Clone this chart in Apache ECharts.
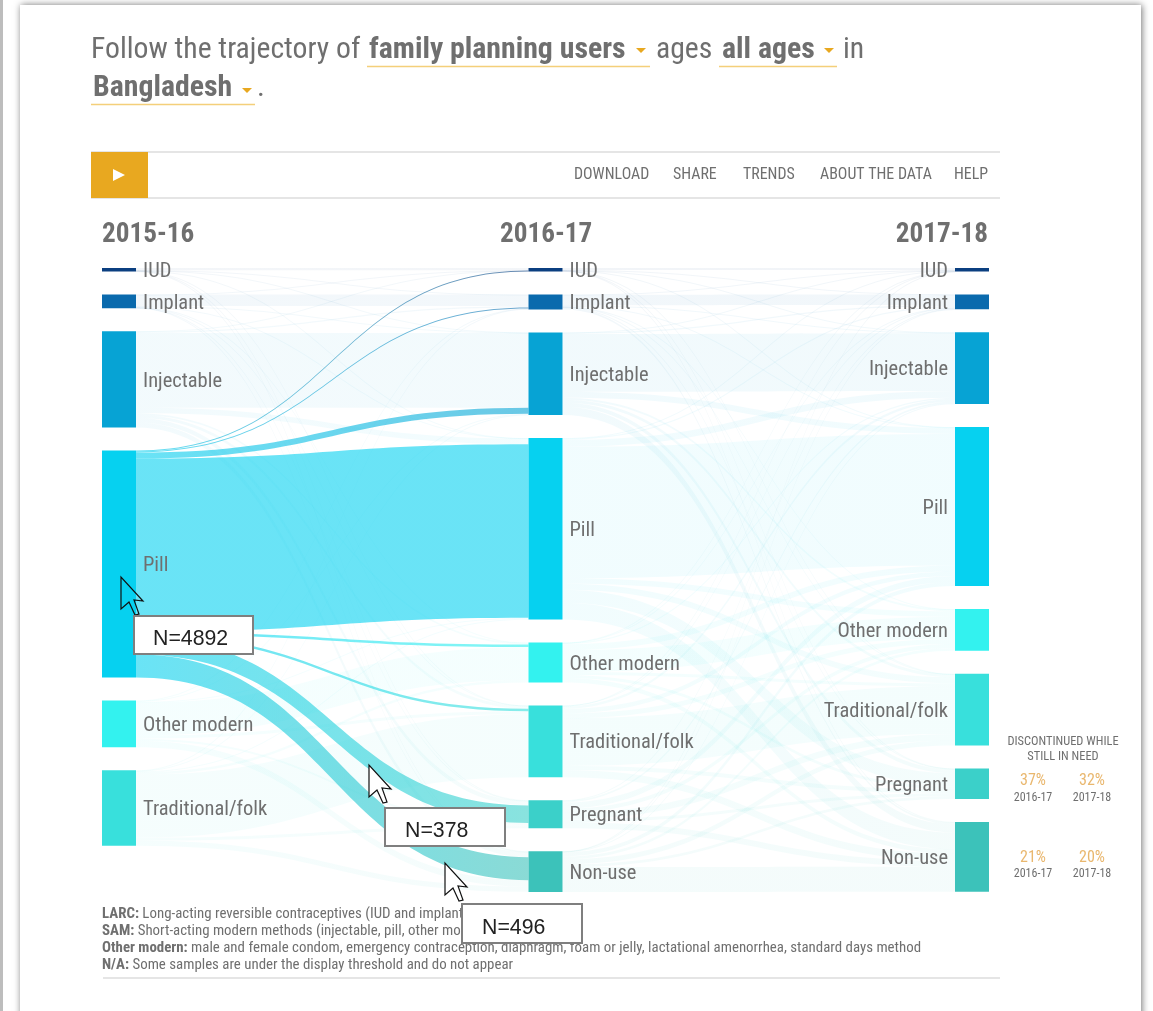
<!DOCTYPE html>
<html><head><meta charset="utf-8">
<style>html,body{margin:0;padding:0;background:#fff}#c{width:1153px;height:1011px}</style>
<script src="https://cdn.jsdelivr.net/npm/echarts@6/dist/echarts.min.js"></script>
</head><body><div id="c"></div>
<script>
// Data (respondents; pill row anchored on the N= callouts)
const periods = ['2015-16', '2016-17', '2017-18'];
const states = ['IUD', 'Implant', 'Injectable', 'Pill', 'Other modern', 'Traditional/folk', 'Pregnant', 'Non-use'];
const statesStart = ['IUD', 'Implant', 'Injectable', 'Pill', 'Other modern', 'Traditional/folk'];
const stateColors = ['#0b3f80', '#0a6aad', '#07a3d4', '#06d1f0', '#33f2ef', '#38e0dc', '#3bd0c9', '#3cc2ba'];
// rows: 2015-16 state; cols: 2016-17 state
const flowIUD1       = [46, 4, 2, 2, 0, 2, 6, 11];
const flowImplant1   = [4, 247, 9, 11, 4, 6, 9, 11];
const flowInjectable1= [4, 32, 1610, 118, 39, 64, 97, 107];
const flowPill1      = [21, 21, 129, 3739, 54, 54, 378, 496];
const flowOther1     = [0, 6, 21, 20, 708, 64, 47, 141];
const flowTrad1      = [0, 11, 10, 20, 54, 1354, 64, 110];
// rows: 2016-17 state; cols: 2017-18 state
const flowIUD2       = [42, 4, 4, 4, 0, 2, 4, 15];
const flowImplant2   = [6, 225, 13, 13, 6, 9, 13, 36];
const flowInjectable2= [6, 28, 1245, 129, 43, 64, 86, 180];
const flowPill2      = [13, 26, 146, 2833, 122, 129, 279, 358];
const flowOther2     = [2, 6, 26, 129, 472, 64, 64, 94];
const flowTrad2      = [2, 15, 54, 97, 107, 1030, 86, 155];
const flowPreg2      = [0, 9, 41, 133, 86, 139, 64, 129];
const flowNon2       = [2, 9, 17, 86, 64, 107, 58, 537];

const firstMatrix = [flowIUD1, flowImplant1, flowInjectable1, flowPill1, flowOther1, flowTrad1];
const secondMatrix = [flowIUD2, flowImplant2, flowInjectable2, flowPill2, flowOther2, flowTrad2, flowPreg2, flowNon2];

const focusSource = 'Pill';
const nodes = [], links = [], focusLinks = [];
const key = (p, s) => p + '|' + s;
const node = (p, depth, s, pos) => nodes.push({
  name: key(p, s), depth,
  itemStyle: {color: stateColors[states.indexOf(s)]},
  label: {position: pos, distance: 7}
});
statesStart.forEach(s => node(periods[0], 0, s, 'right'));
states.forEach(s => node(periods[1], 1, s, 'right'));
states.forEach(s => node(periods[2], 2, s, 'left'));
firstMatrix.forEach((row, i) => row.forEach((v, j) => {
  if (!v) return;
  const focus = statesStart[i] === focusSource;
  (focus ? focusLinks : links).push({
    source: key(periods[0], statesStart[i]), target: key(periods[1], states[j]), value: v,
    lineStyle: {color: 'gradient', opacity: focus ? 0.6 : 0.05}
  });
}));
secondMatrix.forEach((row, i) => row.forEach((v, j) => {
  if (!v) return;
  links.push({
    source: key(periods[1], states[i]), target: key(periods[2], states[j]), value: v,
    lineStyle: {color: 'gradient', opacity: 0.055}
  });
}));

const INK = '#6f6f6f', GOLD = '#e8a820', NARROW = '"Roboto Condensed","Roboto",sans-serif';
const T = (text, x, y, size, o = {}) => ({
  type: 'text', z: o.z || 5, x, y,
  style: {text, fontFamily: o.family || NARROW, fontSize: size, fontWeight: o.weight || 'normal',
    fill: o.fill || INK, align: o.align || 'left', verticalAlign: 'middle', rich: o.rich}
});
const L = (x1, y1, x2, y2, stroke, w) => ({type: 'line', z: 5, shape: {x1, y1, x2, y2}, style: {stroke, lineWidth: w}});
const R = (x, y, width, height, fill, o = {}) => ({type: 'rect', z: o.z || 5, shape: {x, y, width, height},
  style: Object.assign({fill}, o.style || {})});
const caret = (x, y) => ({type: 'polygon', z: 5, shape: {points: [[x, y], [x + 10, y], [x + 5, y + 5]]}, style: {fill: GOLD}});
const cursor = (x, y, fill) => ({type: 'polygon', z: 20, shape: {points:
  [[0,0],[0,32],[8,25],[14,38],[18,37],[13,23],[22,24]].map(p => [x + p[0], y + p[1]])},
  style: {fill, stroke: '#111', lineWidth: 1.2}});
const box = (x, y, w, h, text, tx, ty) => [
  {type: 'rect', z: 20, shape: {x, y, width: w, height: h}, style: {fill: '#fff', stroke: '#7f7f7f', lineWidth: 2}},
  {type: 'text', z: 21, x: tx, y: ty, style: {text, fontFamily: '"Liberation Sans",Arial,sans-serif', fontSize: 21.3, fill: '#222', verticalAlign: 'middle'}}
];
const richB = size => ({b: {fontWeight: 'bold', fontSize: size, fontFamily: NARROW, fill: INK}});

const graphics = [
  R(0, 0, 3, 1011, '#bdbdbd', {z: -2}),
  {type: 'rect', z: -1, shape: {x: 20, y: 5, width: 1121, height: 1030},
    style: {fill: '#fff', shadowBlur: 7, shadowColor: 'rgba(0,0,0,.55)', shadowOffsetX: 1, shadowOffsetY: 0}},
  T('Follow the trajectory of', 91, 50.5, 29.7),
  T('family planning users', 369, 50.5, 29.8, {weight: 'bold'}),
  caret(636, 48),
  L(367, 66.5, 650, 66.5, '#f4cf7a', 1.5),
  T('ages', 656, 50.5, 29.7),
  T('all ages', 722, 50.5, 29.8, {weight: 'bold'}),
  caret(824, 48),
  L(719, 66.5, 837, 66.5, '#f4cf7a', 1.5),
  T('in', 843, 50.5, 29.7),
  T('Bangladesh', 93, 88.5, 29.8, {weight: 'bold'}),
  caret(242, 88),
  L(91, 104.5, 255, 104.5, '#f4cf7a', 1.5),
  T('.', 257, 88.5, 29.7),
  L(91, 152, 1000, 152, '#dcdcdc', 1.5),
  L(91, 198, 1000, 198, '#dcdcdc', 1.5),
  R(91, 152, 57, 46, GOLD),
  {type: 'polygon', z: 6, shape: {points: [[113, 169], [125, 175], [113, 181]]}, style: {fill: '#fff'}},
  T('DOWNLOAD', 574, 175.5, 15.9),
  T('SHARE', 673, 175.5, 15.9),
  T('TRENDS', 743, 175.5, 15.9),
  T('ABOUT THE DATA', 820, 175.5, 15.9),
  T('HELP', 954, 175.5, 15.9),
  T(periods[0], 102, 235.5, 27.2, {weight: 'bold'}),
  T(periods[1], 500, 235.5, 27.2, {weight: 'bold'}),
  T(periods[2], 988, 235.5, 27.2, {weight: 'bold', align: 'right'}),
  T('DISCONTINUED WHILE', 1063, 742, 12.4, {align: 'center'}),
  T('STILL IN NEED', 1063, 757, 12.4, {align: 'center'}),
  T('37%', 1033, 781, 16, {align: 'center', fill: '#e9b76e'}),
  T('32%', 1092, 781, 16, {align: 'center', fill: '#e9b76e'}),
  T('2016-17', 1033, 798, 12, {align: 'center'}),
  T('2017-18', 1092, 798, 12, {align: 'center'}),
  T('21%', 1033, 858, 16, {align: 'center', fill: '#e9b76e'}),
  T('20%', 1092, 858, 16, {align: 'center', fill: '#e9b76e'}),
  T('2016-17', 1033, 874, 12, {align: 'center'}),
  T('2017-18', 1092, 874, 12, {align: 'center'}),
  T('{b|LARC:} Long-acting reversible contraceptives (IUD and implant)', 102, 914, 14.9, {rich: richB(14.9)}),
  T('{b|SAM:} Short-acting modern methods (injectable, pill, other modern)', 102, 931, 14.9, {rich: richB(14.9)}),
  T('{b|Other modern:} male and female condom, emergency contraception, diaphragm, foam or jelly, lactational amenorrhea, standard days method', 102, 948, 14.9, {rich: richB(14.9)}),
  T('{b|N/A:} Some samples are under the display threshold and do not appear', 102, 965, 14.9, {rich: richB(14.9)}),
  L(103, 978, 1000, 978, '#dcdcdc', 1.5),
  cursor(121, 577, 'rgba(255,255,255,0)'),
  ...box(134, 616, 119, 38, 'N=4892', 153, 639),
  cursor(369, 765, '#fff'),
  ...box(385, 808, 120, 38, 'N=378', 405, 831),
  cursor(445, 863, '#fff'),
  ...box(462, 904, 120, 39, 'N=496', 482, 928)
];

const chart = echarts.init(document.getElementById('c'), null, {renderer: 'canvas'});
chart.setOption({
  animation: false,
  backgroundColor: '#fff',
  graphic: {elements: graphics},
  series: [{
    type: 'sankey',
    left: 102, top: 268, width: 887, height: 624,
    nodeWidth: 34, nodeGap: 23,
    layoutIterations: 0,
    draggable: false,
    silent: true,
    emphasis: {disabled: true},
    data: nodes,
    links: links.concat(focusLinks),
    itemStyle: {borderWidth: 0},
    lineStyle: {curveness: 0.5},
    label: {
      color: INK, fontSize: 20.5, fontFamily: NARROW, offset: [0, 2],
      formatter: p => p.name.split('|')[1]
    }
  }]
});
</script></body></html>
